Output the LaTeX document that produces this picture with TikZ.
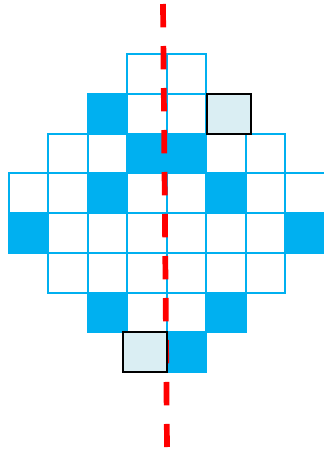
\documentclass[tikz,border=0pt]{standalone}
\definecolor{cellblue}{RGB}{0,176,240}
\definecolor{boxfill}{RGB}{218,238,243}
\begin{document}
\begin{tikzpicture}[x=1pt,y=-1pt,
  cellline/.style={draw=cellblue,line width=2pt},
  cellfill/.style={fill=cellblue},
  hbox/.style={draw=black,fill=boxfill,line width=2.5pt},
  axisline/.style={draw=red,line width=5.7pt,dash pattern=on 23.3pt off 18.7pt}]
\useasboundingbox (0,0) rectangle (324,450);
\clip (0,0) rectangle (324,450);
\def\X{9}\def\W{39.45}\def\Y{54}\def\H{39.75}
% filled cells (row/col)
\foreach \r/\c in {1/2,2/3,2/4,3/2,3/5,4/0,4/7,6/2,6/5,7/4}{
  \fill[cellfill] ({\X+\c*\W},{\Y+\r*\H}) rectangle ++(\W,\H);
}
% grid outlines
\foreach \r/\a/\b in {0/3/4,1/2/4,2/1/6,3/0/7,4/0/7,5/1/6,6/2/5,7/4/4}{
  \foreach \c in {\a,...,\b}{
    \draw[cellline] ({\X+\c*\W},{\Y+\r*\H}) rectangle ++(\W,\H);
  }
}
% symmetry axis
\draw[axisline] (163,4) -- (167,447);
% highlighted boxes
\draw[hbox] (207,94) rectangle (251,134);
\draw[hbox] (123,332) rectangle (167,372);
\end{tikzpicture}
\end{document}
